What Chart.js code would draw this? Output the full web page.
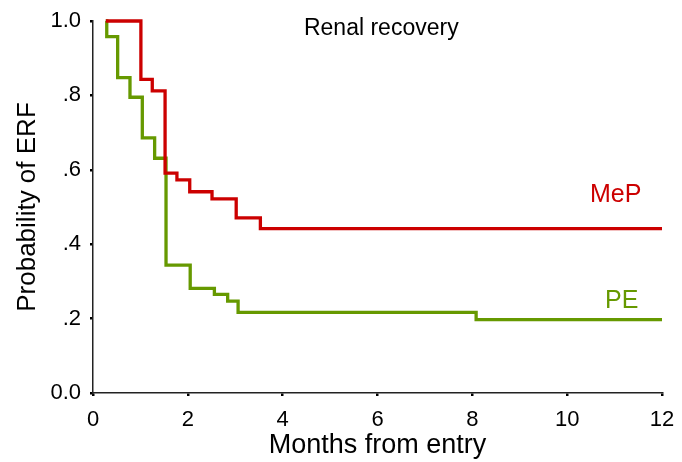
<!DOCTYPE html>
<html>
<head>
<meta charset="utf-8">
<script src="https://cdn.jsdelivr.net/npm/chart.js@4/dist/chart.umd.min.js"></script>
<style>
  html, body { margin: 0; padding: 0; background: #ffffff; }
  #wrap { width: 682px; height: 462px; }
</style>
</head>
<body>
<div id="wrap"><canvas id="c" width="682" height="462"></canvas></div>
<script>
// ---- data ----
const mepMonths = [0.27, 1.01, 1.25, 1.52, 1.77, 2.04, 2.51, 3.02, 3.53, 12];
const mepProb   = [1.0, 0.843, 0.812, 0.591, 0.573, 0.541, 0.522, 0.471, 0.442, 0.442];

const peMonths  = [0.27, 0.29, 0.52, 0.78, 1.04, 1.30, 1.54, 2.05, 2.56, 2.84, 3.06, 8.08, 12];
const peProb    = [1.0, 0.958, 0.848, 0.795, 0.686, 0.631, 0.344, 0.281, 0.265, 0.247, 0.217, 0.197, 0.197];

const seriesNames = ["MeP", "PE"];
const xTickValues = [0, 2, 4, 6, 8, 10, 12];
const yTickValues = [0, 0.2, 0.4, 0.6, 0.8, 1.0];
const yTickLabels = ["0.0", ".2", ".4", ".6", ".8", "1.0"];
const chartTitle = "Renal recovery";
const xTitle = "Months from entry";
const yTitle = "Probability of ERF";

const RED = "#cc0000";
const GREEN = "#669900";
const FONT = "'Liberation Sans', Arial, Helvetica, sans-serif";

const toPoints = (xs, ys) => xs.map((x, i) => ({ x: x, y: ys[i] }));

const labelPlugin = {
  id: "labels",
  afterDraw(chart) {
    const ctx = chart.ctx;
    const xs = chart.scales.x, ys = chart.scales.y;
    ctx.save();
    ctx.textBaseline = "alphabetic";
    // chart title
    ctx.fillStyle = "#000";
    ctx.font = "23px " + FONT;
    ctx.textAlign = "center";
    ctx.fillText(chartTitle, xs.getPixelForValue(6.08), ys.getPixelForValue(0.962));
    // series labels
    ctx.textAlign = "left";
    ctx.font = "25px " + FONT;
    ctx.fillStyle = RED;
    ctx.fillText(seriesNames[0], xs.getPixelForValue(10.48), ys.getPixelForValue(0.513));
    ctx.fillStyle = GREEN;
    ctx.fillText(seriesNames[1], xs.getPixelForValue(10.8), ys.getPixelForValue(0.228));
    ctx.restore();
  }
};

new Chart(document.getElementById("c"), {
  type: "line",
  data: {
    datasets: [
      {
        label: seriesNames[0],
        data: toPoints(mepMonths, mepProb),
        borderColor: RED,
        borderWidth: 3.3,
        stepped: "before",
        pointRadius: 0,
        fill: false,
        tension: 0,
        clip: 6
      },
      {
        label: seriesNames[1],
        data: toPoints(peMonths, peProb),
        borderColor: GREEN,
        borderWidth: 3.3,
        stepped: "before",
        pointRadius: 0,
        fill: false,
        tension: 0,
        clip: 6
      }
    ]
  },
  options: {
    responsive: false,
    animation: false,
    devicePixelRatio: 1,
    layout: { padding: { top: 21, right: 20, left: 0, bottom: 0 } },
    plugins: {
      legend: { display: false },
      tooltip: { enabled: false },
      title: { display: false }
    },
    scales: {
      x: {
        type: "linear",
        min: 0,
        max: 12,
        afterFit(scale) { scale.height = 69; scale.paddingRight = 0; scale.paddingLeft = 0; },
        afterBuildTicks(scale) { scale.ticks = xTickValues.map(v => ({ value: v })); },
        ticks: {
          color: "#000",
          font: { family: FONT, size: 22, lineHeight: 1 },
          padding: 13,
          maxRotation: 0,
          autoSkip: false
        },
        grid: {
          drawOnChartArea: false,
          drawTicks: true,
          tickLength: 3,
          color: "#000",
          lineWidth: 2.5
        },
        border: { display: true, color: "#222", width: 1.5 },
        title: {
          display: true,
          text: xTitle,
          color: "#000",
          font: { family: FONT, size: 27, lineHeight: 1 },
          padding: { top: 0, bottom: 3 }
        }
      },
      y: {
        type: "linear",
        min: 0,
        max: 1,
        afterFit(scale) { scale.width = 93; scale.paddingTop = 0; scale.paddingBottom = 0; },
        afterBuildTicks(scale) { scale.ticks = yTickValues.map(v => ({ value: v })); },
        ticks: {
          color: "#000",
          font: { family: FONT, size: 22, lineHeight: 1 },
          padding: 9,
          autoSkip: false,
          callback: (v) => yTickLabels[Math.round(v * 5)]
        },
        grid: {
          drawOnChartArea: false,
          drawTicks: true,
          tickLength: 3,
          color: "#000",
          lineWidth: 2.5
        },
        border: { display: true, color: "#222", width: 1.5 },
        title: {
          display: true,
          text: yTitle,
          color: "#000",
          font: { family: FONT, size: 26, lineHeight: 1 },
          padding: { top: 15, bottom: 0 }
        }
      }
    }
  },
  plugins: [labelPlugin]
});
</script>
</body>
</html>
